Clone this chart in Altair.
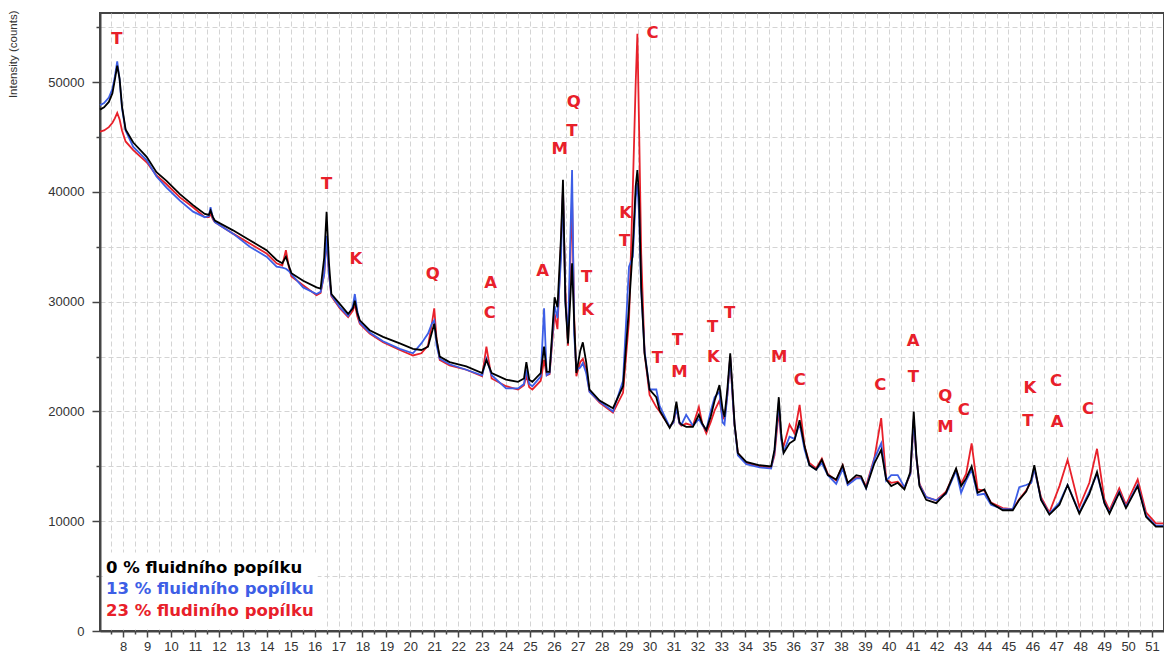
import altair as alt
import pandas as pd

# Diffraction angle (2θ, degrees) sampled along the three patterns
two_theta = [
    7.03, 7.20, 7.40, 7.55, 7.65, 7.75, 7.85, 7.95, 8.10, 8.42,
    8.98, 9.39, 9.81, 10.37, 10.92, 11.41, 11.58, 11.65, 11.75, 11.83,
    12.59, 13.29, 13.99, 14.41, 14.65, 14.80, 14.92, 15.03, 15.52, 16.08,
    16.25, 16.40, 16.50, 16.60, 16.70, 17.05, 17.40, 17.60, 17.68, 17.78,
    17.89, 18.30, 18.86, 19.56, 20.11, 20.46, 20.74, 20.90, 21.00, 21.10,
    21.23, 21.64, 22.34, 23.00, 23.18, 23.40, 24.00, 24.50, 24.75, 24.85,
    24.97, 25.10, 25.45, 25.59, 25.70, 25.82, 26.03, 26.15, 26.30, 26.38,
    26.48, 26.59, 26.68, 26.76, 26.85, 26.94, 27.10, 27.21, 27.35, 27.49,
    27.91, 28.47, 28.89, 29.14, 29.30, 29.42, 29.49, 29.56, 29.65, 29.79,
    30.00, 30.28, 30.42, 30.84, 31.00, 31.12, 31.25, 31.33, 31.53, 31.81,
    32.06, 32.20, 32.37, 32.55, 32.72, 32.92, 33.05, 33.13, 33.25, 33.37,
    33.48, 33.55, 33.69, 34.04, 34.60, 35.08, 35.22, 35.40, 35.50, 35.60,
    35.85, 36.06, 36.27, 36.48, 36.68, 36.96, 37.20, 37.45, 37.80, 38.07,
    38.28, 38.64, 38.84, 39.05, 39.40, 39.68, 39.89, 40.10, 40.37, 40.65,
    40.90, 41.04, 41.15, 41.28, 41.56, 41.98, 42.39, 42.81, 43.02, 43.23,
    43.46, 43.71, 43.99, 44.27, 44.76, 45.18, 45.45, 45.74, 45.95, 46.08,
    46.36, 46.71, 47.13, 47.47, 47.96, 48.38, 48.70, 49.01, 49.22, 49.63,
    49.91, 50.40, 50.75, 51.16, 51.47,
]

# Intensity (counts), 0 % fly ash
counts_0 = [
    47500, 47700, 48200, 49000, 50200, 51500, 50300, 47800, 45700, 44500,
    43200, 41800, 41000, 39800, 38800, 38000, 37900, 38300, 37700, 37400,
    36500, 35600, 34700, 33800, 33500, 34100, 33300, 32600, 31900, 31300,
    31200, 34000, 38200, 33500, 30700, 29800, 28900, 29400, 30100, 29000,
    28300, 27400, 26800, 26200, 25700, 25600, 25900, 27200, 28000, 26500,
    25000, 24500, 24100, 23500, 24700, 23500, 22900, 22700, 23000, 24500,
    22900, 22700, 23500, 25900, 23600, 23600, 30400, 29500, 36000, 41100,
    30000, 26200, 30000, 33500, 28000, 23500, 25500, 26300, 24500, 22000,
    21000, 20300, 22300, 29500, 35000, 40500, 42000, 39500, 31300, 25300,
    22000, 21300, 20100, 18500, 19200, 20900, 19000, 18800, 18600, 18600,
    19700, 18900, 18300, 19500, 21000, 22400, 20200, 19500, 22000, 25300,
    21500, 18900, 16200, 15400, 15100, 15000, 16500, 21300, 18000, 16200,
    17100, 17400, 19200, 16800, 15100, 14700, 15600, 14200, 13800, 15100,
    13500, 14200, 14100, 13000, 15300, 16500, 13800, 13200, 13500, 12900,
    14500, 20000, 16000, 13200, 11950, 11650, 12600, 14800, 13200, 13900,
    15000, 12600, 12900, 11650, 11000, 11000, 11950, 12700, 13800, 15100,
    11950, 10600, 11500, 13300, 10700, 12500, 14500, 11650, 10700, 12600,
    11200, 13200, 10400, 9500, 9500,
]

# Intensity (counts), 13 % fly ash
counts_13 = [
    47900, 48100, 48600, 49400, 50500, 51900, 50200, 47600, 45600, 44100,
    42900, 41400, 40400, 39200, 38200, 37700, 37800, 38600, 37600, 37250,
    36200, 35000, 34100, 33200, 33100, 33000, 32800, 32500, 31300, 30700,
    30900, 32500, 36000, 32500, 30600, 29500, 28700, 29600, 30700, 29200,
    28100, 27200, 26400, 25700, 25300, 26200, 27100, 28000, 28300, 26000,
    24800, 24300, 23800, 23300, 24800, 23300, 22100, 22100, 22500, 23800,
    22500, 22300, 23200, 29400, 23300, 23500, 29600, 28500, 34000, 40300,
    30000, 26800, 35000, 42000, 27000, 23800, 24000, 24400, 23500, 21800,
    20900, 20000, 22800, 33200, 34100, 39500, 40800, 38000, 31000, 25500,
    22000, 22000, 20500, 18600, 19000, 20300, 18900, 18800, 19700, 18700,
    19300, 18800, 18300, 20000, 21300, 21800, 19000, 18800, 21500, 25000,
    21000, 18800, 16000, 15200, 14900, 14800, 16300, 20800, 17500, 16300,
    17700, 17500, 18900, 16500, 15100, 14700, 15300, 14200, 13400, 14800,
    13300, 13900, 13900, 13000, 15700, 17100, 13700, 14200, 14200, 13100,
    14300, 19300, 15800, 13300, 12200, 11900, 12500, 14600, 12600, 13700,
    14700, 12400, 12500, 11500, 11100, 11100, 13100, 13300, 13500, 14800,
    12000, 10700, 11700, 13300, 10800, 12700, 14300, 11700, 10800, 12700,
    11300, 13300, 10500, 9600, 9600,
]

# Intensity (counts), 23 % fly ash
counts_23 = [
    45500, 45600, 45900, 46300, 46700, 47200, 46600, 45600, 44600, 43800,
    42700, 41500, 40700, 39500, 38600, 37700, 37700, 38000, 37500, 37250,
    36200, 35300, 34400, 33500, 33300, 34700, 33200, 32300, 31500, 30600,
    30800, 32500, 35800, 32500, 30500, 29400, 28600, 29200, 29800, 28700,
    28000, 27100, 26300, 25600, 25100, 25300, 26000, 28000, 29400, 26500,
    24700, 24200, 23800, 23200, 25900, 23000, 22300, 22000, 22400, 23300,
    22200, 22000, 22800, 24700, 23300, 23400, 28900, 27500, 35500, 40200,
    31000, 26000, 33000, 39500, 28500, 23200, 24500, 24800, 23800, 21800,
    20800, 19900, 21700, 28300, 40400, 50000, 54400, 46000, 34400, 25300,
    21500, 20400, 20000, 18600, 19000, 20300, 18900, 18700, 18900, 18700,
    20400, 18900, 18000, 19000, 20100, 21000, 19500, 19300, 21500, 25000,
    21000, 18800, 16200, 15300, 15000, 14900, 16000, 20100, 17500, 16800,
    18800, 18000, 20600, 16800, 15300, 14800, 15700, 14300, 13700, 15100,
    13400, 14000, 14000, 13200, 15800, 19400, 13800, 13500, 13600, 13000,
    14300, 19200, 15800, 13400, 12200, 11900, 12700, 14700, 13400, 14300,
    17100, 12900, 12800, 11700, 11200, 11100, 12000, 12800, 13600, 14800,
    12200, 10800, 13200, 15600, 11300, 13500, 16600, 12000, 11000, 13000,
    11500, 13800, 10800, 9800, 9800,
]

series_names = ["0 % fluidního popílku", "13 % fluidního popílku", "23 % fludiního popílku"]
series_colors = ["#000000", "#3d5ee6", "#e8202a"]

# Phase labels: T, K, Q, A, C, M above the reflections
ann_text = ["T", "T", "K", "Q", "A", "C", "A", "M", "Q", "T",
            "T", "K", "K", "T", "C", "T", "T", "M", "T", "K",
            "T", "M", "C", "C", "A", "T", "Q", "M", "C", "K",
            "T", "C", "A", "C"]
ann_x = [7.74, 16.50, 17.72, 20.94, 23.36, 23.32, 25.53, 26.24, 26.83, 26.75,
         27.37, 27.41, 29.00, 28.96, 30.12, 30.33, 31.17, 31.25, 32.63, 32.67,
         33.35, 35.42, 36.28, 39.64, 41.02, 41.02, 42.36, 42.37, 43.13, 45.89,
         45.81, 46.99, 47.03, 48.33]
ann_y = [53950, 40680, 33860, 32500, 31680, 28950, 32770, 43950, 48230, 45590,
         32220, 29220, 38040, 35500, 54500, 24860, 26500, 23590, 27680, 24950,
         28950, 24950, 22860, 22410, 26410, 23140, 21410, 18590, 20130, 22140,
         19130, 22770, 19040, 20230]

# Legend block in the lower left corner
legend_x = 7.28
legend_y = [5770, 3860, 1860]
legend_box = {"two_theta": 7.15, "two_theta_end": 16.13, "counts": 270, "counts_end": 7150}

x_ticks = [v / 2 for v in range(15, 103)]
y_ticks = list(range(0, 55001, 5000))

rows = []
for name, vals in zip(series_names, [counts_0, counts_13, counts_23]):
    for t, c in zip(two_theta, vals):
        rows.append({"two_theta": t, "counts": c, "series": name})
df = pd.DataFrame(rows)

ann_df = pd.DataFrame({"two_theta": ann_x, "counts": ann_y, "label": ann_text})
leg_df = pd.DataFrame({"two_theta": [legend_x] * 3, "counts": legend_y, "series": series_names})
box_df = pd.DataFrame([legend_box])

x_scale = alt.Scale(domain=[7.03, 51.5], nice=False, zero=False)
y_scale = alt.Scale(domain=[0, 56300], nice=False, zero=True)
color_scale = alt.Scale(domain=series_names, range=series_colors)

x_axis = alt.Axis(
    values=x_ticks,
    labelExpr="datum.value % 1 === 0 ? format(datum.value, 'd') : ''",
    title=None,
    grid=True,
    gridColor="#d4d4d4",
    gridDash=[5, 3],
    gridWidth=1,
    tickSize={"condition": {"test": "datum.value % 1 === 0", "value": 6}, "value": 3},
    tickColor="#444",
    tickWidth=1.5,
    labelPadding=3,
    labelFont="Liberation Sans",
    labelFontSize=13,
    labelColor="#333",
    domainColor="#444",
    domainWidth=2,
    labelOverlap=False,
    labelFlush=False,
)
y_axis = alt.Axis(
    values=y_ticks,
    labelExpr="datum.value % 10000 === 0 ? format(datum.value, 'd') : ''",
    title="Intensity (counts)",
    titleFont="Liberation Sans",
    titleFontSize=11.5,
    titleFontWeight="normal",
    titleColor="#333",
    titleAngle=270,
    titleAlign="right",
    titleBaseline="middle",
    titleX=-87,
    titleY=-3,
    grid=True,
    gridColor="#d4d4d4",
    gridDash=[5, 3],
    gridWidth=1,
    tickSize={"condition": {"test": "datum.value % 10000 === 0", "value": 8}, "value": 4},
    tickColor="#444",
    tickWidth=1.5,
    labelPadding=8,
    labelFont="Liberation Sans",
    labelFontSize=13,
    labelColor="#333",
    domainColor="#444",
    domainWidth=2,
    labelOverlap=False,
)

line_base = alt.Chart(df).mark_line(strokeWidth=1.8, interpolate="linear").encode(
    color=alt.Color("series:N", scale=color_scale, legend=None),
)

# draw red, then blue, then black on top
line_layers = [
    line_base.transform_filter(alt.datum.series == series_names[2]),
    line_base.transform_filter(alt.datum.series == series_names[1]),
    line_base.transform_filter(alt.datum.series == series_names[0]),
]

labels = alt.Chart(ann_df).mark_text(
    font="DejaVu Sans", fontWeight="bold", fontSize=16.5, color="#e8202a",
    align="center", baseline="middle",
).encode(text="label:N")

box = alt.Chart(box_df).mark_rect(color="white").encode(
    x2="two_theta_end:Q",
    y2="counts_end:Q",
)

legend_text = alt.Chart(leg_df).mark_text(
    font="DejaVu Sans", fontWeight="bold", fontSize=16.5,
    align="left", baseline="middle",
).encode(
    text="series:N",
    color=alt.Color("series:N", scale=color_scale, legend=None),
)

chart = alt.layer(*line_layers, labels, box, legend_text).encode(
    x=alt.X("two_theta:Q", scale=x_scale, axis=x_axis),
    y=alt.Y("counts:Q", scale=y_scale, axis=y_axis),
).properties(
    width=1064,
    height=618,
    autosize=alt.AutoSizeParams(type="none"),
    padding={"left": 100, "top": 13, "right": 0, "bottom": 24},
    background="white",
).configure_view(
    stroke="#444", strokeWidth=2,
)

chart.save("out.html", embed_options={"renderer": "svg", "actions": False})
